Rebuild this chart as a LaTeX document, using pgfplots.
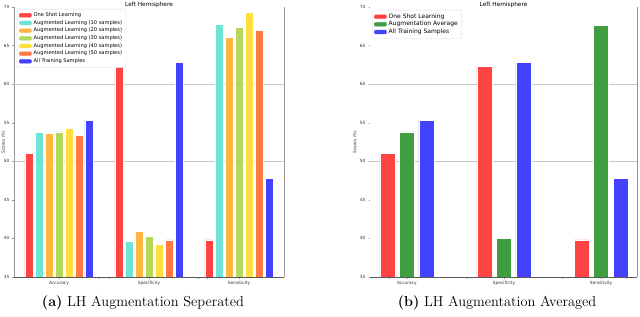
\documentclass[border=0pt]{standalone}
\usepackage{pgfplots}
\pgfplotsset{compat=1.18}
\usepackage{pgfplotstable}
\usepackage{fontspec}
\setsansfont{DejaVu Sans}

\definecolor{cRed}{RGB}{255,66,66}
\definecolor{cCyan}{RGB}{110,228,215}
\definecolor{cOrange}{RGB}{255,182,66}
\definecolor{cGreen}{RGB}{180,215,92}
\definecolor{cYellow}{RGB}{255,222,66}
\definecolor{cOrRed}{RGB}{255,122,66}
\definecolor{cBlue}{RGB}{66,66,255}
\definecolor{cDGreen}{RGB}{64,158,64}
\definecolor{spine}{RGB}{150,150,150}

\pgfplotstableread{
x one a10 a20 a30 a40 a50 all
0 51.0 53.7 53.6 53.8 54.3 53.4 55.3
1 62.3 39.6 40.9 40.3 39.2 39.8 62.8
2 39.8 67.7 66.1 67.4 69.3 67.0 47.8
}\sepdata

\pgfplotstableread{
x one avg all
0 51.0 53.8 55.3
1 62.3 40.0 62.8
2 39.8 67.6 47.8
}\avgdata

\pgfplotsset{
  every axis title shift=0pt,
  bl/.style={draw=white, line width=0.5pt, fill=#1,
    legend image code/.code={\fill[#1] (0pt,-1.8pt) rectangle (12pt,1.8pt);}},
  mystyle/.style={
    scale only axis,
    anchor=south west,
    height=270pt,
    ymin=35, ymax=70,
    ytick={35,40,...,70},
    xtick={0,1,2},
    xticklabels={Accuracy,Specificity,Sensitivity},
    axis x line*=bottom,
    axis y line*=left,
    axis line style={spine, line width=0.6pt},
    every tick/.style={spine, line width=0.4pt},
    major tick length=1.5pt,
    tick align=outside,
    tick label style={font=\sffamily\fontsize{4.3}{5}\selectfont, text=black!80},
    yticklabel style={xshift=0.5pt},
    xticklabel style={yshift=1pt},
    /pgf/number format/assume math mode=true,
    extra y ticks={50,60},
    extra y tick labels={{},{}},
    extra y tick style={grid=major, major grid style={black!22, line width=0.7pt}},
    ylabel={Scores (\%)},
    ylabel style={font=\sffamily\fontsize{4.3}{5}\selectfont, text=black!80, anchor=center},
    title={Left Hemisphere},
    title style={font=\sffamily\fontsize{5.8}{6}\selectfont, at={(0.5,1)}, anchor=center, yshift=2.5pt},
    legend cell align=left,
    legend style={draw=black!15, rounded corners=1pt,
      fill=white, inner xsep=2pt, inner ysep=1.5pt},
    clip=false,
  }
}

\begin{document}
\begin{tikzpicture}
\useasboundingbox (0pt,0pt) rectangle (640pt,316pt);

\begin{axis}[mystyle,
  at={(14pt,39pt)}, width=270pt,
  xmin=-0.5, xmax=2.5,
  ybar=2pt, bar width=8pt,
  extra x ticks={0.444,0.556,1.544,1.644},
  extra x tick labels={{},{},{},{}},
  ylabel style={at={(axis description cs:-0.039,0.5)}},
  legend style={at={(0.011,0.993)}, anchor=north west, font=\sffamily\fontsize{5.1}{5.5}\selectfont, row sep=-1.7pt},
]
\addplot[bl=cRed] table[x=x,y=one]{\sepdata};
\addplot[bl=cCyan] table[x=x,y=a10]{\sepdata};
\addplot[bl=cOrange] table[x=x,y=a20]{\sepdata};
\addplot[bl=cGreen] table[x=x,y=a30]{\sepdata};
\addplot[bl=cYellow] table[x=x,y=a40]{\sepdata};
\addplot[bl=cOrRed] table[x=x,y=a50]{\sepdata};
\addplot[bl=cBlue] table[x=x,y=all]{\sepdata};
\legend{One Shot Learning,Augmented Learning (10 samples),Augmented Learning (20 samples),Augmented Learning (30 samples),Augmented Learning (40 samples),Augmented Learning (50 samples),All Training Samples}
\draw[spine, line width=0.6pt] (rel axis cs:1,0) -- (rel axis cs:1,1);
\draw[black!65, line width=0.6pt] (rel axis cs:0,0) -- (rel axis cs:1,0);
\end{axis}

\begin{axis}[mystyle,
  at={(370pt,39pt)}, width=267pt,
  xmin=-0.38, xmax=2.37,
  ybar=4.5pt, bar width=15pt,
  y axis line style={draw=none},
  extra x ticks={-0.186,0.62,1.6,2.26},
  extra x tick labels={{},{},{},{}},
  ylabel style={at={(axis description cs:-0.056,0.5)}},
  legend style={at={(0.0075,0.989)}, anchor=north west, font=\sffamily\fontsize{6}{6.5}\selectfont, row sep=-2.4pt},
]
\addplot[bl=cRed] table[x=x,y=one]{\avgdata};
\addplot[bl=cDGreen] table[x=x,y=avg]{\avgdata};
\addplot[bl=cBlue] table[x=x,y=all]{\avgdata};
\legend{One Shot Learning,Augmentation Average,All Training Samples}
\draw[spine, line width=0.6pt] (rel axis cs:1,0) -- (rel axis cs:1,1);
\draw[black!65, line width=0.6pt] (rel axis cs:0,0) -- (rel axis cs:1,0);
\end{axis}

\node at (143pt,13pt) {\fontsize{14.4}{16}\selectfont\textbf{(a)} LH Augmentation Seperated};
\node at (497pt,13pt) {\fontsize{14.4}{16}\selectfont\textbf{(b)} LH Augmentation Averaged};
\end{tikzpicture}
\end{document}
